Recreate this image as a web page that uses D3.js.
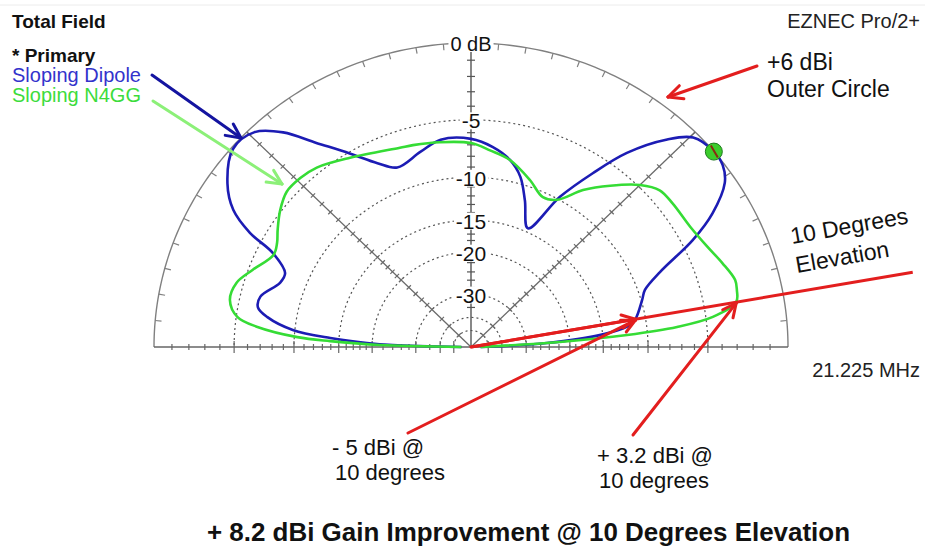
<!DOCTYPE html>
<html>
<head>
<meta charset="utf-8">
<script src="https://cdn.jsdelivr.net/npm/d3@7"></script>
<style>
  body { margin: 0; background: #fff; }
  svg { display: block; font-family: "Liberation Sans", Arial, sans-serif; }
</style>
</head>
<body>
<div id="chart"></div>
<script>
// elevation pattern, angle in degrees (0 = right horizon), gain in dB relative to outer ring (+6 dBi)
const dipoleAngles = [0, 3.1, 5.5, 8.2, 10, 16, 18.9, 22.5, 26.7, 30, 34, 37, 40, 44.5, 47.8, 52.4, 56.1, 60.4, 65.3,
  70.6, 74.5, 78.7, 84, 90, 98, 104, 111.5, 116, 121, 126, 130, 134, 139, 145, 149, 151.7, 153.7, 157.5, 160.7,
  166, 169, 171.3, 174.3, 176.2, 177.7, 178.5, 180];
const dipoleDb = [-60, -24.5, -15.4, -11.7, -11, -9.9, -9.35, -7.5, -4.2, -2.2, -0.6, -0.1, 0, -0.3, -1.4, -3.7, -6.4, -9.7, -14.5,
  -11.5, -9.3, -8.0, -7.1, -6.5, -6.4, -7.1, -7.8, -6.8, -5.1, -3.2, -1.4, -0.3, -0.1, -1.1, -2.3, -4.0, -6.2, -7.8, -7.7,
  -6.5, -6.5, -7.4, -9.8, -13.9, -19.1, -24, -60];

const n4ggAngles = [0, 3.4, 4.6, 5.8, 7.4, 10, 12.6, 14.8, 19.2, 23.8, 29.7, 36.6, 40.9, 45, 50.4, 55.6, 60.7, 65.3,
  71.3, 78.7, 84.7, 90, 98.3, 105.4, 108.9, 121.5, 129.5, 134.1, 138.7, 143.2, 147.7, 150.8, 154.1, 159.8, 164.1,
  168.5, 172.4, 174.4, 176.6, 177.5, 178.7, 180];
const n4ggDb = [-60, -21.8, -12.1, -7.3, -4.5, -2.8, -2.6, -2.55, -3.0, -3.5, -3.9, -4.0, -4.1, -4.85, -6.4, -8.05, -10.1, -10.5,
  -9.35, -8.0, -7.4, -6.85, -6.6, -6.4, -6.3, -5.4, -4.6, -4.4, -4.4, -4.9, -5.6, -6.1, -6.3, -5.3, -4.5,
  -4.35, -5.1, -6.7, -10.3, -13.9, -21.4, -60];

const ringDb = [-5, -10, -15, -20, -30, -40, -50];
const ringLabels = ['-5', '-10', '-15', '-20', '-30'];
const minorTickDb = [-1, -2, -3, -4, -6, -7, -8, -9, -11, -12, -13, -14, -16, -17, -18, -19, -22, -24, -26, -28, -35];
const seriesNames = ['Sloping Dipole', 'Sloping N4GG'];
const markAngle = 10;

const width = 925, height = 550;
const cx = 471, cy = 347;

// ARRL log scale: radius fraction for a dB value
const arrl = db => Math.pow(0.89, -db / 2);
const xScale = d3.scaleLinear().domain([-1, 1]).range([cx - 317, cx + 317]);
const yScale = d3.scaleLinear().domain([0, 1]).range([cy, cy - 304]);
const rad = a => a * Math.PI / 180;
const pt = (a, r) => [xScale(r * Math.cos(rad(a))), yScale(r * Math.sin(rad(a)))];

const svg = d3.select('#chart').append('svg')
  .attr('width', width)
  .attr('height', height);

svg.append('line')
  .attr('x1', 0).attr('x2', width).attr('y1', 5).attr('y2', 5)
  .attr('stroke', '#ececec');

const grid = svg.append('g').classed('grid', true);
const arcLine = d3.line();
const half = d3.range(0, 180.5, 1);

// dotted rings
grid.selectAll('.ring')
  .data(ringDb)
  .enter()
  .append('path')
  .classed('ring', true)
  .attr('d', d => arcLine(half.map(a => pt(a, arrl(d)))))
  .attr('fill', 'none')
  .attr('stroke', '#555')
  .attr('stroke-width', 1.2)
  .attr('stroke-dasharray', '2,3');

// outer circle
grid.append('path')
  .attr('d', arcLine(half.map(a => pt(a, 1))))
  .attr('fill', 'none')
  .attr('stroke', '#808080')
  .attr('stroke-width', 1.4);

grid.selectAll('.otick')
  .data(d3.range(5, 180, 5))
  .enter()
  .append('line')
  .attr('x1', d => pt(d, 1)[0]).attr('y1', d => pt(d, 1)[1])
  .attr('x2', d => pt(d, 0.98)[0]).attr('y2', d => pt(d, 0.98)[1])
  .attr('stroke', '#808080')
  .attr('stroke-width', 1.2);

// diagonals
[45, 135].forEach(a => {
  grid.append('line')
    .attr('x1', cx).attr('y1', cy)
    .attr('x2', pt(a, 1)[0]).attr('y2', pt(a, 1)[1])
    .attr('stroke', '#6a6a6a')
    .attr('stroke-width', 1.3);
  const nx = -Math.sin(rad(a)), ny = -Math.cos(rad(a));
  grid.selectAll(null)
    .data(minorTickDb.concat(ringDb))
    .enter()
    .append('line')
    .attr('x1', d => pt(a, arrl(d))[0] - nx * 3).attr('y1', d => pt(a, arrl(d))[1] - ny * 3)
    .attr('x2', d => pt(a, arrl(d))[0] + nx * 3).attr('y2', d => pt(a, arrl(d))[1] + ny * 3)
    .attr('stroke', '#6a6a6a')
    .attr('stroke-width', 1.2);
});

// baseline
grid.append('line')
  .attr('x1', xScale(-1)).attr('x2', xScale(1))
  .attr('y1', cy).attr('y2', cy)
  .attr('stroke', '#666')
  .attr('stroke-width', 1.5);

[0, 180].forEach(a => {
  grid.selectAll(null)
    .data(minorTickDb)
    .enter()
    .append('line')
    .attr('x1', d => pt(a, arrl(d))[0]).attr('x2', d => pt(a, arrl(d))[0])
    .attr('y1', cy - 3).attr('y2', cy + 3)
    .attr('stroke', '#666')
    .attr('stroke-width', 1.2);
  grid.selectAll(null)
    .data(ringDb)
    .enter()
    .append('line')
    .attr('x1', d => pt(a, arrl(d))[0]).attr('x2', d => pt(a, arrl(d))[0])
    .attr('y1', cy - 6).attr('y2', cy + 6)
    .attr('stroke', '#666')
    .attr('stroke-width', 1.2);
});

// vertical axis
grid.append('line')
  .attr('x1', cx).attr('x2', cx)
  .attr('y1', cy).attr('y2', yScale(1))
  .attr('stroke', '#555')
  .attr('stroke-width', 1.4);

grid.selectAll('.vtick')
  .data(minorTickDb)
  .enter()
  .append('line')
  .attr('x1', cx - 4).attr('x2', cx + 4)
  .attr('y1', d => yScale(arrl(d))).attr('y2', d => yScale(arrl(d)))
  .attr('stroke', '#555')
  .attr('stroke-width', 1.2);

// labels with white knock-out
function boxedLabel(x, y, txt, size) {
  const g = svg.append('g');
  const t = g.append('text')
    .attr('x', x).attr('y', y)
    .attr('text-anchor', 'middle')
    .attr('dominant-baseline', 'central')
    .style('font-size', size + 'px')
    .attr('fill', '#111')
    .text(txt);
  const b = t.node().getBBox();
  g.insert('rect', 'text')
    .attr('x', b.x - 2).attr('y', b.y + 3)
    .attr('width', b.width + 4).attr('height', b.height - 6)
    .attr('fill', '#fff');
}

boxedLabel(cx, yScale(1) + 1, '0 dB', 20);
ringLabels.forEach((l, i) => boxedLabel(cx, yScale(arrl(ringDb[i])) + 1, l, 21));

// patterns
const pattern = d3.line().curve(d3.curveCatmullRom.alpha(0.5));
const series = [
  { angles: dipoleAngles, db: dipoleDb, color: '#1c1cb4' },
  { angles: n4ggAngles, db: n4ggDb, color: '#35dc35' }
];
svg.selectAll('.pattern')
  .data(series)
  .enter()
  .append('path')
  .classed('pattern', true)
  .attr('d', s => pattern(s.angles.map((a, i) => pt(a, arrl(s.db[i])))))
  .attr('fill', 'none')
  .attr('stroke', s => s.color)
  .attr('stroke-width', 2.6)
  .attr('stroke-linejoin', 'round');

// max gain marker
const peakIdx = dipoleDb.indexOf(d3.max(dipoleDb));
const peak = pt(dipoleAngles[peakIdx], arrl(dipoleDb[peakIdx]));
svg.append('circle')
  .attr('cx', peak[0]).attr('cy', peak[1]).attr('r', 8.5)
  .attr('fill', '#3ccc2c')
  .attr('stroke', '#1f7a1f')
  .attr('stroke-width', 1);
svg.append('line')
  .attr('x1', peak[0] - 3).attr('y1', peak[1] - 6)
  .attr('x2', peak[0] + 4).attr('y2', peak[1] + 6)
  .attr('stroke', '#8a2a10')
  .attr('stroke-width', 2);

// header texts
const txt = (x, y, s, size, opts = {}) => svg.append('text')
  .attr('x', x).attr('y', y)
  .style('font-size', size + 'px')
  .style('font-weight', opts.bold ? 'bold' : 'normal')
  .attr('fill', opts.color || '#111')
  .attr('text-anchor', opts.anchor || 'start')
  .attr('transform', opts.rotate ? `rotate(${opts.rotate},${x},${y})` : null)
  .text(s);

txt(12, 28, 'Total Field', 19, { bold: true });
txt(12, 62, '* Primary', 19, { bold: true });
txt(12, 82, seriesNames[0], 20, { color: '#3333cc' });
txt(12, 102, seriesNames[1], 20, { color: '#3cdc3c' });
txt(920, 28, 'EZNEC Pro/2+', 20, { anchor: 'end', color: '#222' });
txt(920, 377, '21.225 MHz', 20, { anchor: 'end', color: '#222' });

txt(767, 70, '+6 dBi', 23);
txt(767, 97, 'Outer Circle', 23);
txt(792, 244, '10 Degrees', 23, { rotate: -10 });
txt(797, 273, 'Elevation', 23, { rotate: -10 });
txt(332, 455, '- 5 dBi @', 22);
txt(335, 480, '10 degrees', 22);
txt(597, 463, '+ 3.2 dBi @', 22);
txt(599, 488, '10 degrees', 22);

svg.append('text')
  .attr('x', 207).attr('y', 541)
  .attr('textLength', 643)
  .attr('lengthAdjust', 'spacingAndGlyphs')
  .style('font-size', '26px')
  .style('font-weight', 'bold')
  .attr('fill', '#111')
  .text('+ 8.2 dBi Gain Improvement @ 10 Degrees Elevation');

// arrows
function arrow(x1, y1, x2, y2, color, w, head) {
  const g = svg.append('g')
    .attr('stroke', color)
    .attr('stroke-width', w)
    .attr('stroke-linecap', 'round')
    .attr('fill', 'none');
  const a = Math.atan2(y2 - y1, x2 - x1);
  g.append('line').attr('x1', x1).attr('y1', y1).attr('x2', x2).attr('y2', y2);
  [-0.45, 0.45].forEach(o => {
    g.append('line')
      .attr('x1', x2).attr('y1', y2)
      .attr('x2', x2 - head * Math.cos(a + o))
      .attr('y2', y2 - head * Math.sin(a + o));
  });
}

const red = '#e31e1e';
const el10 = pt(markAngle, 1.415);
svg.append('line')
  .attr('x1', cx).attr('y1', cy)
  .attr('x2', el10[0]).attr('y2', el10[1])
  .attr('stroke', red)
  .attr('stroke-width', 3);

const dip10 = pt(markAngle, arrl(dipoleDb[dipoleAngles.indexOf(markAngle)]));
const n4gg10 = pt(markAngle, arrl(n4ggDb[n4ggAngles.indexOf(markAngle)]));
arrow(cx, cy, dip10[0], dip10[1], red, 3, 15);
arrow(408, 433, dip10[0], dip10[1] + 1, red, 3, 15);
arrow(633, 435, n4gg10[0], n4gg10[1] + 1, red, 3, 15);
arrow(757, 66, 668, 97, red, 3, 16);

arrow(152, 75, 241, 138, '#1414a0', 3, 16);
arrow(153, 101, 282, 184, '#8cf078', 3, 16);
</script>
</body>
</html>
